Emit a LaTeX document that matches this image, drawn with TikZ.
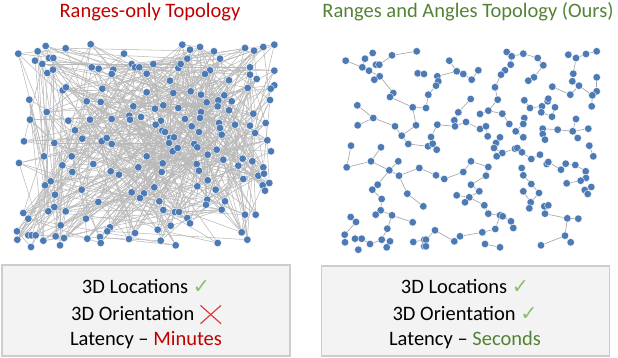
\documentclass[tikz,border=0pt]{standalone}
\usepackage{fontspec}
\setmainfont{Carlito}
\newfontfamily\dejavu{DejaVu Sans}
\pgfdeclarelayer{bg}
\pgfsetlayers{bg,main}
\definecolor{titleRed}{RGB}{192,0,0}
\definecolor{titleGreen}{RGB}{84,130,53}
\definecolor{chk}{RGB}{140,190,110}
\definecolor{xred}{RGB}{225,60,60}
\definecolor{dotblue}{RGB}{76,122,180}
\definecolor{ledgec}{RGB}{185,185,185}
\definecolor{redgec}{RGB}{165,165,165}
\definecolor{panelfill}{RGB}{243,243,243}
\definecolor{panelline}{RGB}{205,205,205}
\tikzset{
  dot/.style={circle,fill=dotblue,draw=white,line width=0.35pt,inner sep=0pt,minimum size=7.5pt},
  ledge/.style={draw=ledgec,line width=0.55pt},
  redge/.style={draw=redgec,line width=0.65pt},
  panel/.style={draw=panelline,fill=panelfill,line width=1.1pt,inner sep=0pt},
  ttl/.style={anchor=base,inner sep=0pt,font=\fontsize{20.5}{24}\selectfont},
  btxt/.style={anchor=base,inner sep=0pt,font=\fontsize{20.5}{24}\selectfont},
  xmark/.style={draw=xred,line width=1.2pt}
}
\newcommand{\ck}{{\dejavu\color{chk}✓}}
\begin{document}
\begin{tikzpicture}[x=1pt,y=-1pt]
\useasboundingbox (0,0) rectangle (618,358);
% titles
\node[ttl,text=titleRed] (tl) at (150,17.3) {Ranges-only Topology};
\node[ttl,text=titleGreen] (tr) at (468,17.3) {Ranges and Angles Topology (Ours)};
% panels
\node[panel,minimum width=288pt,minimum height=91pt] (boxL) at (146,310.5) {};
\node[panel,minimum width=288pt,minimum height=90pt] (boxR) at (465.5,311) {};
\node[btxt] (l1t) at (146,293.5) {3D Locations \ck};
\node[btxt] (l2t) at (146,320) {3D Orientation\hspace{6pt}\hbox to 20.5pt{}};
\node[btxt] (l3t) at (146,345.5) {Latency – \textcolor{titleRed}{Minutes}};
\draw[xmark] ([xshift=-20.5pt,yshift=-3.7pt]l2t.base east) -- ([yshift=14.6pt]l2t.base east);
\draw[xmark] ([xshift=-20.5pt,yshift=14.6pt]l2t.base east) -- ([yshift=-3.7pt]l2t.base east);
\node[btxt] (r1t) at (465,293.5) {3D Locations \ck};
\node[btxt] (r2t) at (465,320) {3D Orientation \ck};
\node[btxt] (r3t) at (465,345.5) {Latency – \textcolor{titleGreen}{Seconds}};
% left graph nodes
\foreach \x/\y [count=\c] in {
18.3/53.7, 37.7/51.3, 45.7/46, 65.7/48.3, 90.7/44.3, 35/60.7, 42.3/64, 49/58, 53.3/58, 47.3/73, 53/69.7, 91.7/67.3, 98.7/68.7, 62.7/90.3, 66/87.3, 102.3/88.7, 29.3/99.7, 86.7/101.3, 100.7/102, 46.7/112, 30/119.7, 68.3/120.7, 90/119.7, 75/130.3, 82.3/138.7, 101.7/141.3, 24/141.3, 54.3/143, 44/156.3, 71.7/156.3, 19/163, 62.3/165.3, 93.3/164, 72.3/172, 50.7/181.3, 45/185.3, 81.7/189.7, 55/194.7, 98.3/202, 54.3/207, 48.3/211.3, 65.7/211.3, 23.3/213, 28.3/218.7, 86/218.7, 60.7/225.3, 17/231.3, 28.3/235.3, 31.7/235.3, 35.7/235.3, 17.3/239.7, 43.3/240.7, 55.7/236.3, 64/238, 31/247, 60/245.3, 87.3/238.7, 100/237, 100.7/243,
124/53.7, 182.3/44.7, 190/49.7, 187.3/58.7, 131.7/64, 135/67.3, 139.3/67.3, 153.3/64, 146.7/73.7, 178.3/68, 180.7/64, 113.3/69.7, 111.7/74, 170/80.7, 146.7/92.3, 173.3/93, 190.7/91.3, 133.3/106.3, 155/108.7, 163.3/105.3, 178.3/108, 129.3/115.7, 130/119.7, 141/117, 111.7/119, 161/120.7, 155.7/124.7, 162.3/130.7, 165/132, 185/119, 191.7/126.3, 170/138, 174/137.3, 169/143, 172.7/151.3, 177.7/148, 106.7/138, 111.7/144, 194.3/144, 197.3/147.3, 146.7/156.3, 162.7/163.3, 138.3/167.3, 196.7/164, 110.7/171.3, 119/174.7, 161.7/172, 154.3/187.3, 197.3/186.3, 131.7/192.3, 144/193.3, 140/198, 159.3/201.3, 163.3/210, 175/212, 179/212, 187.3/218, 190/223.3, 110/227.3, 107.3/231.3, 135/233, 129/239, 157.7/229.7, 170.7/225.7, 160.7/240.7, 175.7/245.3,
200/47, 214/51.3, 220/58.7, 245/48, 254/50.7, 263.3/47, 274.3/44.7, 210/70.3, 205/74, 229/80.3, 250/67.3, 250/74.7, 256.7/79, 274.3/70.7, 274.3/85.3, 270.7/88.7, 247.7/88, 201/94.7, 224.3/95.3, 206.7/102.3, 218.3/100.3, 231.7/101.3, 217.7/106.3, 270/100, 201/112, 200/118, 229/110.3, 253.3/113.7, 219/123, 220/128, 221.7/134.7, 235/124.7, 250/125.7, 265.7/123, 255/133, 199/132, 267.3/140.3, 271/151.3, 216.7/149.7, 207.7/154.7, 242.7/158.7, 238.3/165.7, 252.3/161.3, 223.3/159.7, 263.3/167.3, 258.3/175.7, 264/173.7, 243.3/179, 207.7/180.3, 199/170.7, 269.3/183, 262.7/185.3, 265/190.7, 215.7/189.7, 207.3/199.7, 225/201.3, 206/204.7, 221.7/209.7, 245/214.7, 255.7/214.7, 241.7/232.3, 247.3/239.7, 217.7/243}
{
  \node[dot] (l\c) at (\x,\y) {};
  \expandafter\xdef\csname lx\c\endcsname{\x}
  \expandafter\xdef\csname ly\c\endcsname{\y}
  \xdef\NL{\c}
}
% right graph nodes
\foreach \n/\x/\y in {
p1/345.7/60.7, p2/365/58.7, p3/372.7/53, p4/362.3/67.3, p5/369/70.7, p6/376/64.7, p7/379.3/64.7, p8/392/55.3, p9/416.7/51.3, p10/379.7/76.3, p11/374.3/79.7, p12/393.3/93, p13/390/97, p14/417.7/73.3, p16/412.7/107.3, p18/357.3/105.3, p19/373.3/118, p20/357.7/125.3, p21/395/126.3, p22/416/125.3, p23/401.7/135.7, p24/408.3/144, p25/351/145.7, p26/381/147.3, p27/346.7/167.3, p28/371/161.3, p29/398.3/161.3, p30/389.3/170.3, p31/399/175.7, p32/419.3/168, p33/377.7/184.7, p34/372.3/189.7, p35/381.7/199, p36/407.3/193.7, p37/423.3/206.3, p38/350.7/217, p39/356/222, p40/380.7/210.3, p41/375.7/214.7, p42/392/215.3, p43/412.7/222.3, p44/387.3/228.7, p45/344.7/234.7, p46/345/242.3, p47/355/238.7, p48/361.7/238.7, p49/358.3/249.7, p50/370/244, p51/381.7/239.7, p52/390/241.3, p53/386.7/247.3, p54/413.3/242, p55/424.3/239.7, p56/424.3/246.3,
q1/424/74, q2/437.3/76.3, q3/438.3/81.3, q4/436/85.7, q5/449.3/60.7, q6/456.7/71.3, q7/463.3/74, q8/471.7/79.7, q9/478.3/70.3, q10/506.7/52, q11/511.7/56.3, q12/510.7/64.7, q13/505/70.3, q14/501/74.7, q15/495/87.3, q16/497.7/99.7, q17/428.3/94.7, q18/426/108, q19/470.7/99, q20/458.3/112.3, q21/454.3/120.3, q22/455/126.3, q23/466/122, q24/480/114, q25/488.3/110.7, q26/502.3/113.7, q27/437.3/124.7, q28/431/137, q29/428/146.3, q30/432.7/143.7, q31/436.7/149.7, q32/480/129, q33/486/126.3, q34/487.7/136.3, q35/509.3/124, q36/500/137.3, q37/496/143, q38/494/148, q39/502.3/153, q40/496.7/156.3, q41/515/148.7, q42/471/161.3, q43/488.3/167, q45/463.3/172, q46/436/175.3, q47/444.3/179, q48/486/175.7, q49/471/184.7, q50/479.3/191.3, q51/456.7/195.3, q52/469.3/197.3, q53/465/202.3, q54/484.3/205.3, q56/488.3/213.7, q57/500/215.3, q58/502.7/216.3, q59/511/221.3, q60/513.3/228, q61/495.3/229, q62/482.3/232.3, q63/435/230.3, q64/426/239.7, q65/426/246.3, q66/460/236.3, q67/454.3/241.3, q68/485/244, q69/500/247.3,
u2/523.3/53.7, u3/537.7/58, u4/543.3/65.3, u5/534/77.3, u6/528.3/80.7, u8/568.3/54.7, u9/576/58, u10/586/54, u11/596.7/51.3, u12/573.3/73.7, u13/572.3/81.3, u14/579/85.7, u15/596.7/77.3, u16/596.7/91.3, u17/592.3/95.3, u18/591.7/106.3, u19/552.3/86.7, u20/570.3/94.7, u21/524.3/100.3, u22/530/108, u23/542/106.3, u24/547.7/101.3, u25/548.3/98.7, u26/555/107.3, u27/541.3/112.3, u28/552/116.7, u29/524.3/118, u30/523.3/124, u31/576/119, u33/515.7/131.3, u34/542.7/128.7, u35/542.7/134, u36/545/139.7, u37/557.7/129.7, u38/572.7/131.3, u39/588.3/128.7, u40/577.7/138, u41/523.3/137.3, u42/589.3/145.7, u43/593.3/156.3, u44/517.3/148, u45/522/152.3, u46/531.3/159, u47/540/154.7, u48/546.7/164, u49/548.3/162, u50/561/169.7, u51/565.7/163.7, u52/575.3/165, u53/585.7/171.3, u54/586/178, u55/580.7/180.7, u56/566.7/183.3, u57/591.3/187, u58/584.7/190, u59/587.7/194, u60/521.7/168, u61/523.3/175.3, u62/531.3/184, u63/539/193, u64/523.3/191.3, u65/530.7/202.3, u66/529.3/208.3, u67/544.3/206.3, u68/548.3/205.3, u69/545/213.7, u70/567.3/218.3, u71/578.3/218.7, u74/565/235.7, u75/570.7/242.3, u76/541/245.3}
{ \node[dot] (\n) at (\x,\y) {}; }
\begin{pgfonlayer}{bg}
% left: random range-limited edges
\pgfmathsetseed{11}
\foreach \i in {1,...,\NL} {
  \foreach \k in {1,...,5} {
    \pgfmathrandominteger{\j}{1}{\NL}
    \pgfmathtruncatemacro\ok{and(veclen(\csname lx\i\endcsname-\csname lx\j\endcsname,\csname ly\i\endcsname-\csname ly\j\endcsname)<165, \j!=\i)}
    \ifnum\ok=1 \draw[ledge] (l\i) -- (l\j); \fi
  }
}
% right: sparse tree-like edges
\foreach \a/\b in {
p1/p4, p4/p5, p2/p4, p6/p7, p7/p8, p8/p9, p5/p10, p10/p12, p12/p13, p13/p16, p16/q18, q18/q17, q17/q4, q4/q3, q3/q2, q2/q6, q5/q6, q6/q7, q7/q8, q8/q9, p16/p22, p22/p23, p21/p23, p19/p21, p18/p19, p19/p20, p23/p24, p24/q29, q29/q30, q28/q30, q27/q28, q27/q22, q21/q22, q20/q21, q19/q20, q22/q23, q23/q32, q32/q33, q33/q34, p25/p27, p27/p28, p26/p28, p28/p30, p29/p30, p30/p31, p30/p33, p31/p32, p31/p36, p36/p37, p34/p35, p35/p40, p40/p41, p40/p42, p42/p43, p42/p44, p44/p51, p51/p52, p52/p53, p50/p51, p48/p50, p47/p48, p38/p39, p39/p45, p45/p46, p54/p55, p55/p56, p14/q1,
q30/q31, q10/q11, q11/q12, q12/q13, q13/q14, q14/q15, q15/q16, q16/q25, q24/q25, q25/q26, q26/q35, q36/q37, q37/q38, q38/q39, q38/q40, q39/q41, q42/q43, q42/q45, q45/q47, q46/q47, q46/p32, q43/q48, q48/q49, q49/q50, q50/q52, q51/q52, q52/q53, q52/q54, q54/q56, q56/q57, q57/q58, q58/q59, q59/q60, q57/q61, q61/q62, q62/q66, q66/q67, q67/q63, q63/q64, q64/q65, q68/q69,
q11/u2, u2/u3, u3/u4, u4/u5, u5/u6, u8/u9, u9/u10, u10/u11, u9/u12, u12/u13, u13/u14, u14/u20, u14/u17, u15/u16, u16/u17, u17/u18, u19/u20, u21/u22, u22/u23, u23/u24, u24/u25, u26/u28, u27/u28, u29/u30, u30/u33, u33/u41, u34/u35, u35/u36, u34/u37, u37/u38, u38/u31, u38/u39, u38/u40, u42/u43, u44/u45, u45/u46, u46/u47, u48/u49, u49/u50, u50/u51, u51/u52, u52/u53, u53/u54, u54/u55, u55/u56, u57/u58, u58/u59, u60/u61, u61/u62, u62/u63, u63/u65, u64/u65, u65/u66, u67/u68, u68/u69, u69/u70, u70/u71, u70/u74, u74/u76, u74/u75}
{ \draw[redge] (\a) -- (\b); }
\end{pgfonlayer}
\end{tikzpicture}
\end{document}
